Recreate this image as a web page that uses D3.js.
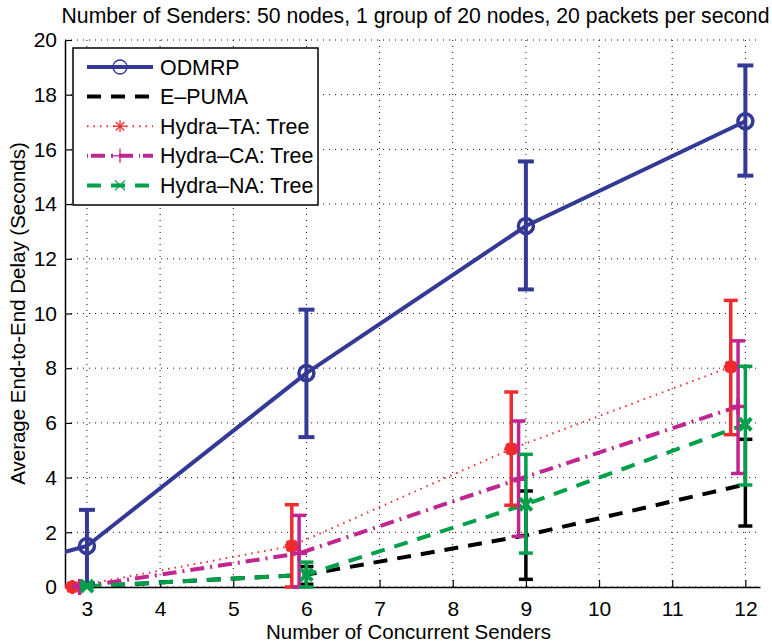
<!DOCTYPE html>
<meta charset="utf-8">
<script src="https://d3js.org/d3.v7.min.js"></script>
<style>
  body { margin: 0; background: #fff; }
  text { font-family: "Liberation Sans", Arial, Helvetica, sans-serif; fill: #000; }
</style>
<body>
<div id="chart"></div>
<script>

// ---- data ----
const xTicks = [3, 4, 5, 6, 7, 8, 9, 10, 11, 12];
const yTicks = [0, 2, 4, 6, 8, 10, 12, 14, 16, 18, 20];

// ODMRP (first point lies left of the visible axis, only its line shows)
const odmrpX    = [2, 3, 6, 9, 12];
const odmrpMean = [0.78, 1.5, 7.82, 13.2, 17.03];
const odmrpLo   = [null, 0.13, 5.48, 10.88, 15.04];
const odmrpHi   = [null, 2.82, 10.14, 15.56, 19.07];

// E-PUMA
const epumaX    = [3, 6, 9, 12];
const epumaMean = [0.02, 0.45, 1.89, 3.75];
const epumaLo   = [0, 0.1, 0.28, 2.23];
const epumaHi   = [0.05, 0.75, 3.51, 5.4];

// Hydra-TA: Tree
const taX    = [2.8, 5.8, 8.8, 11.8];
const taMean = [0.0, 1.5, 5.05, 8.05];
const taLo   = [0, 0, 2.99, 5.57];
const taHi   = [0.05, 3.01, 7.13, 10.48];

// Hydra-CA: Tree
const caX    = [2.9, 5.9, 8.9, 11.9];
const caMean = [0.0, 1.23, 3.94, 6.6];
const caLo   = [0, 0, 1.85, 4.15];
const caHi   = [0.05, 2.62, 6.07, 9.0];

// Hydra-NA: Tree
const naX    = [3, 6, 9, 12];
const naMean = [0.03, 0.45, 3.02, 5.95];
const naLo   = [0, 0, 1.24, 3.73];
const naHi   = [0.08, 0.91, 4.85, 8.07];

const seriesNames = ["ODMRP", "E\u2013PUMA", "Hydra\u2013TA: Tree", "Hydra\u2013CA: Tree", "Hydra\u2013NA: Tree"];

// ---- layout ----
const W = 772, H = 643;
const margin = {top: 40, right: 12, bottom: 56, left: 65};
const width = W - margin.left - margin.right,
      height = H - margin.top - margin.bottom;

const svg = d3.select("#chart").append("svg")
    .attr("width", W).attr("height", H);

const g = svg.append("g")
    .attr("transform", "translate(" + margin.left + "," + margin.top + ")");

const x = d3.scaleLinear().domain([2.7, 12.2]).range([0, width]);
const y = d3.scaleLinear().domain([0, 20]).range([height, 0]);

svg.append("defs").append("clipPath").attr("id", "plotclip")
  .append("rect").attr("width", width).attr("height", height);

// dotted grid
g.append("g").selectAll("line").data(xTicks).enter().append("line")
    .attr("x1", d => x(d)).attr("x2", d => x(d))
    .attr("y1", 0).attr("y2", height)
    .attr("stroke", "#111").attr("stroke-width", 1)
    .attr("stroke-dasharray", "1,5");
g.append("g").selectAll("line").data(yTicks).enter().append("line")
    .attr("x1", 0).attr("x2", width)
    .attr("y1", d => y(d)).attr("y2", d => y(d))
    .attr("stroke", "#111").attr("stroke-width", 1)
    .attr("stroke-dasharray", "1,5");

// axes (ticks point inward)
const xAxis = g.append("g")
    .attr("transform", "translate(0," + height + ")")
    .call(d3.axisBottom(x).tickValues(xTicks).tickSizeInner(-7).tickSizeOuter(0).tickPadding(14));
const yAxis = g.append("g")
    .call(d3.axisLeft(y).tickValues(yTicks).tickSizeInner(-7).tickSizeOuter(0).tickPadding(8));
[xAxis, yAxis].forEach(a => {
  a.select(".domain").attr("stroke", "#000").attr("stroke-width", 1.5);
  a.selectAll(".tick line").attr("stroke", "#000").attr("stroke-width", 1.2);
  a.selectAll(".tick text").style("font-size", "21px")
    .style("font-family", "'Liberation Sans', Arial, sans-serif").attr("fill", "#000");
});

// titles
svg.append("text")
    .attr("x", margin.left + width / 2 + 3).attr("y", 23)
    .attr("text-anchor", "middle")
    .style("font-size", "21.2px")
    .text("Number of Senders: 50 nodes, 1 group of 20 nodes, 20 packets per second");
svg.append("text")
    .attr("x", margin.left + width / 2 - 4).attr("y", 639)
    .attr("text-anchor", "middle")
    .style("font-size", "20.5px")
    .text("Number of Concurrent Senders");
svg.append("text")
    .attr("transform", "translate(25," + (margin.top + height / 2) + ") rotate(-90)")
    .attr("text-anchor", "middle")
    .style("font-size", "20.5px")
    .text("Average End-to-End Delay (Seconds)");

// series styles
const series = [
  {name: seriesNames[0], xs: odmrpX, m: odmrpMean, lo: odmrpLo, hi: odmrpHi,
   color: "#343996", lw: 4, dash: null, ebw: 4, cap: 8, marker: "circle"},
  {name: seriesNames[1], xs: epumaX, m: epumaMean, lo: epumaLo, hi: epumaHi,
   color: "#000000", lw: 4, dash: "14,10", ebw: 3.5, cap: 7, marker: "none"},
  {name: seriesNames[2], xs: taX, m: taMean, lo: taLo, hi: taHi,
   color: "#ee2b2e", lw: 2, dash: "1.5,5", ebw: 3.5, cap: 7, marker: "star"},
  {name: seriesNames[3], xs: caX, m: caMean, lo: caLo, hi: caHi,
   color: "#c02590", lw: 4, dash: "14,6,2,6", ebw: 3.5, cap: 7, marker: "plus"},
  {name: seriesNames[4], xs: naX, m: naMean, lo: naLo, hi: naHi,
   color: "#00a04b", lw: 4, dash: "14,10", ebw: 3.5, cap: 7, marker: "cross"}
];

function drawMarker(sel, type, cx, cy, color, big) {
  if (type === "circle") {
    sel.append("circle").attr("cx", cx).attr("cy", cy).attr("r", big ? 7.5 : 7)
      .attr("fill", "none").attr("stroke", color).attr("stroke-width", big ? 3.5 : 1.3);
  } else if (type === "star") {
    if (big) sel.append("circle").attr("cx", cx).attr("cy", cy).attr("r", 6.5).attr("fill", color);
    const r = big ? 7 : 6;
    [0, 45, 90, 135].forEach(a => {
      const dx = r * Math.cos(a * Math.PI / 180), dy = r * Math.sin(a * Math.PI / 180);
      sel.append("line").attr("x1", cx - dx).attr("x2", cx + dx).attr("y1", cy - dy).attr("y2", cy + dy)
        .attr("stroke", color).attr("stroke-width", big ? 3 : 1.3);
    });
  } else if (type === "plus") {
    const r = big ? 8 : 7;
    sel.append("line").attr("x1", cx - r).attr("x2", cx + r).attr("y1", cy).attr("y2", cy)
      .attr("stroke", color).attr("stroke-width", big ? 3.5 : 1.3);
    sel.append("line").attr("x1", cx).attr("x2", cx).attr("y1", cy - r).attr("y2", cy + r)
      .attr("stroke", color).attr("stroke-width", big ? 3.5 : 1.3);
  } else if (type === "cross") {
    const r = big ? 6 : 5;
    sel.append("line").attr("x1", cx - r).attr("x2", cx + r).attr("y1", cy - r).attr("y2", cy + r)
      .attr("stroke", color).attr("stroke-width", big ? 4 : 1.3);
    sel.append("line").attr("x1", cx - r).attr("x2", cx + r).attr("y1", cy + r).attr("y2", cy - r)
      .attr("stroke", color).attr("stroke-width", big ? 4 : 1.3);
  }
}

const plot = g.append("g");
const clipped = plot.append("g").attr("clip-path", "url(#plotclip)");

series.forEach(s => {
  const pts = s.xs.map((xv, i) => ({x: xv, m: s.m[i], lo: s.lo[i], hi: s.hi[i]}));
  const line = d3.line().x(d => x(d.x)).y(d => y(d.m));
  const p = clipped.append("path").datum(pts)
      .attr("d", line)
      .attr("fill", "none")
      .attr("stroke", s.color)
      .attr("stroke-width", s.lw);
  if (s.dash) p.attr("stroke-dasharray", s.dash);

  const eb = plot.append("g");
  pts.filter(d => d.lo !== null).forEach(d => {
    eb.append("line").attr("x1", x(d.x)).attr("x2", x(d.x))
      .attr("y1", y(d.lo)).attr("y2", y(d.hi))
      .attr("stroke", s.color).attr("stroke-width", s.ebw);
    [d.lo, d.hi].forEach(v => {
      eb.append("line").attr("x1", x(d.x) - s.cap).attr("x2", x(d.x) + s.cap)
        .attr("y1", y(v)).attr("y2", y(v))
        .attr("stroke", s.color).attr("stroke-width", s.ebw);
    });
    drawMarker(eb, s.marker, x(d.x), y(d.m), s.color, true);
  });
});

// legend
const lg = svg.append("g");
lg.append("rect")
    .attr("x", 73).attr("y", 48).attr("width", 245).attr("height", 157)
    .attr("fill", "#fff").attr("stroke", "#000").attr("stroke-width", 1.5);
series.forEach((s, i) => {
  const ly = 67 + i * 29.6;
  const ln = lg.append("line")
      .attr("x1", 87).attr("x2", 153).attr("y1", ly).attr("y2", ly)
      .attr("stroke", s.color).attr("stroke-width", s.lw);
  if (s.dash) ln.attr("stroke-dasharray", s.name === seriesNames[3] ? "1,3,14,6,2,6,14,6" : s.dash);
  drawMarker(lg, s.marker, 120, ly, s.color, false);
  lg.append("text").attr("x", 160).attr("y", ly + 7.5)
      .style("font-size", "21.4px").text(s.name);
});

</script>
</body>
